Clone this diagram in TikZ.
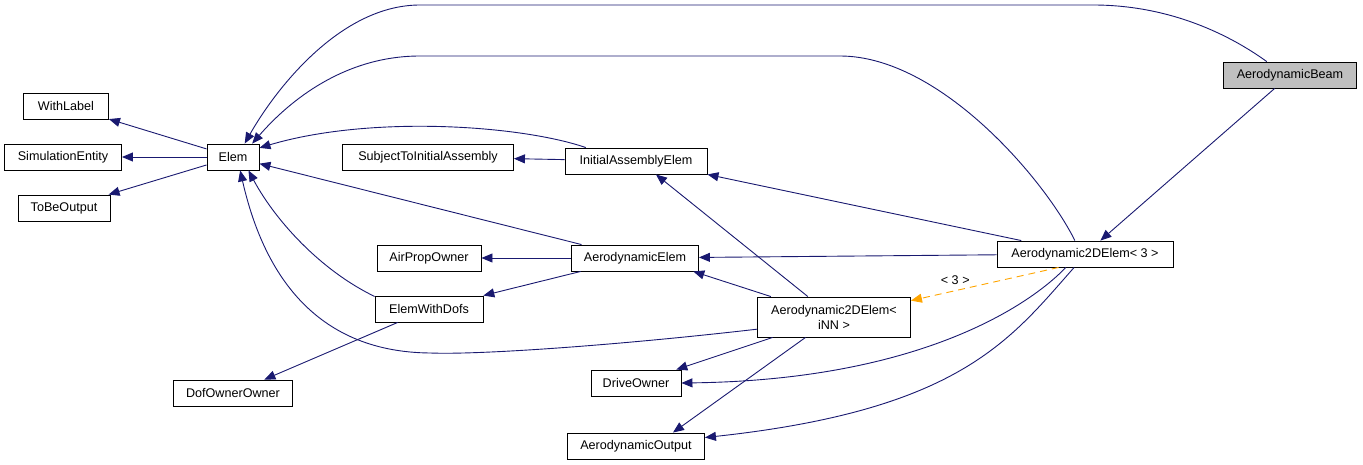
\documentclass[tikz,border=0pt]{standalone}
\usepackage{fontspec}
\setmainfont{Liberation Sans}
\usepackage{tikz}
\usetikzlibrary{arrows.meta}

\definecolor{navyline}{HTML}{191970}
\definecolor{tmplorange}{HTML}{FFA500}

\begin{document}
\begin{tikzpicture}[->, >={Triangle[length=11pt,width=9pt]}, x=1pt, y=-1pt,
    cls/.style={draw, line width=.9pt, inner sep=0pt, minimum height=26pt,
      font=\fontsize{12.6}{15}\selectfont, align=center},
    inh/.style={draw=navyline, line width=.9pt},
    tmpl/.style={draw=tmplorange, line width=.9pt, dash pattern=on 7pt off 5pt}]
    \useasboundingbox (0,0) rectangle (1363,465);

    \node[cls, minimum width=85pt] at (66, 106) (wl)   {WithLabel};
    \node[cls, minimum width=117pt] at (63, 157) (se)  {SimulationEntity};
    \node[cls, minimum width=92pt] at (64, 208) (tbo)  {ToBeOutput};
    \node[cls, minimum width=52pt] at (233, 157) (elem) {Elem};

    \node[cls, minimum width=171pt] at (428, 157) (stia) {SubjectToInitialAssembly};
    \node[cls, minimum width=104pt] at (429, 258) (apo)  {AirPropOwner};
    \node[cls, minimum width=108pt] at (429, 309) (ewd)  {ElemWithDofs};
    \node[cls, minimum width=119pt] at (233, 393) (doo)  {DofOwnerOwner};

    \node[cls, minimum width=142pt] at (636, 161) (iae) {InitialAssemblyElem};
    \node[cls, minimum width=127pt] at (635, 258) (ae)  {AerodynamicElem};
    \node[cls, minimum width=90pt] at (636, 383) (do)   {DriveOwner};
    \node[cls, minimum width=137pt] at (636, 446) (ao)  {AerodynamicOutput};

    \node[cls, minimum width=153pt, minimum height=40pt] at (834, 317) (a2dn) {Aerodynamic2DElem<\\ iNN >};
    \node[cls, minimum width=176pt] at (1085, 254) (a2d3) {Aerodynamic2DElem< 3 >};
    \node[cls, minimum width=133pt, fill=black!25] at (1290, 75) (beam) {AerodynamicBeam};

    \foreach \p in {wl,se,tbo}
    \draw[inh] (elem) -- (\p);

    \draw[inh] (beam.150) .. controls (1230,35) and (1170,5) .. (1093,5) -- (420,5)
        .. controls (340,5) and (275,90) .. (elem.49);
    \draw[inh] (a2d3.127) .. controls (1045,180) and (940,56) .. (840,56) -- (420,56)
        .. controls (345,56) and (290,100) .. (elem.35);
    \draw[inh] (iae.165) .. controls (520,125) and (370,115) .. (elem.19);
    \draw[inh] (ae) -- (elem);
    \draw[inh] (ewd.167) .. controls (320,270) and (275,220) .. (elem.-41);
    \draw[inh] (a2dn.189) .. controls (620,345) and (480,355) .. (430,353)
        .. controls (320,352) and (265,280) .. (elem.-62);

    \draw[inh] (iae) -- (stia);
    \draw[inh] (ae) -- (apo);
    \draw[inh] (ae) -- (ewd);
    \draw[inh] (ewd) -- (doo);

    \draw[inh] (a2dn.142) -- (iae.-34);
    \draw[inh] (a2dn) -- (ae.-13);
    \draw[inh] (a2dn) -- (do);
    \draw[inh] (a2dn) -- (ao.20);

    \draw[tmpl] (a2d3.207) -- node[pos=.7, above=2pt, text=black, font=\fontsize{12.6}{15}\selectfont] (lbl) {< 3 >} (a2dn.12);
    \draw[inh] (a2d3) -- (iae.south east);
    \draw[inh] (a2d3) -- (ae);
    \draw[inh] (a2d3.215) .. controls (1030,305) and (920,380) .. (do.east);
    \draw[inh] (a2d3.231) .. controls (1010,340) and (960,410) .. (ao.7);

    \draw[inh] (beam) -- (a2d3);
  \end{tikzpicture}
\end{document}
